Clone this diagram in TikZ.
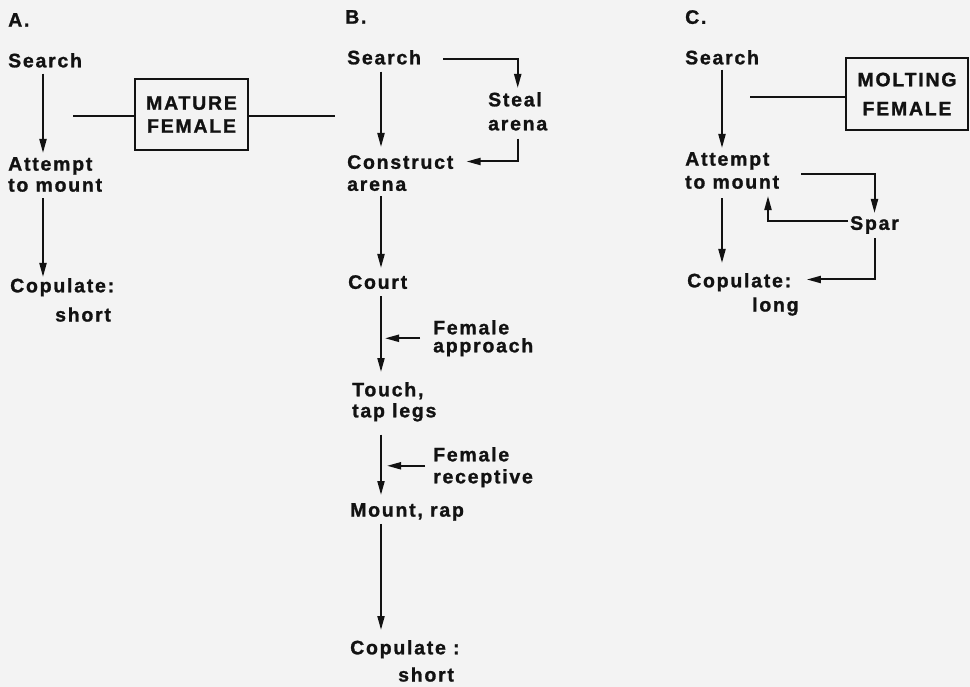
\documentclass[tikz,border=0pt]{standalone}
\usepackage{fontspec}
\setmainfont{Liberation Sans}[LetterSpace=9, BoldFont={Liberation Sans Bold}, BoldFeatures={FakeBold=1.2}]
\usetikzlibrary{arrows.meta}
\definecolor{bg}{RGB}{243,243,243}
\definecolor{ink}{RGB}{18,18,18}
\begin{document}
\begin{tikzpicture}[x=1pt,y=-1pt,
  txt/.style={anchor=north west, inner sep=0pt, align=left, text=ink,
              font=\fontsize{19.5}{18}\selectfont\bfseries},
  fembox/.style={draw=ink, line width=2pt, inner sep=0pt, align=center, text=ink,
              font=\fontsize{19.5}{18}\selectfont\bfseries},
  arr/.style={draw=ink, line width=2pt, -{Triangle[length=14pt,width=7pt]}},
  ln/.style={draw=ink, line width=2pt}]
\fill[bg] (0,0) rectangle (970,687);
\useasboundingbox (0,0) rectangle (970,687);

% ---------- A ----------
\node[txt] (aLab) at (8,13) {A.};
\node[txt] (aSearch) at (8,53) {Search};
\node[txt] (aAtt) at (8,157) {Attempt\\[3pt]to mount};
\node[txt] (aCop) at (10,278) {Copulate:\\[10pt]\hspace*{45pt}short};
\node[fembox, minimum width=113pt, minimum height=71pt] (aBox) at (191.5,114.5) {MATURE\\[5pt]FEMALE};
\coordinate (aX) at (43,0);
\coordinate (aL) at (73,116);
\coordinate (aR) at (335,116);
\draw[arr, shorten <=6pt, shorten >=4pt] (aSearch.south -| aX) -- (aAtt.north -| aX);
\draw[arr, shorten <=6pt, shorten >=1pt] (aAtt.south -| aX) -- (aCop.north -| aX);
\draw[ln] (aL) -- (aL -| aBox.west);
\draw[ln] (aBox.east |- aR) -- (aR);

% ---------- B ----------
\node[txt] (bLab) at (345,10) {B.};
\node[txt] (bSearch) at (347,50) {Search};
\node[txt] (bSteal) at (488,92) {Steal\\[6pt]arena};
\node[txt] (bCons) at (347,155) {Construct\\[4pt]arena};
\node[txt] (bCourt) at (348,275) {Court};
\node[txt] (bFapp) at (433,320) {Female\\approach};
\node[txt] (bTouch) at (352,382) {Touch,\\[3pt]tap legs};
\node[txt] (bFrec) at (433,447) {Female\\[4pt]receptive};
\node[txt] (bMount) at (350,503) {Mount, rap};
\node[txt] (bCop) at (350,640) {Copulate :\\[8pt]\hspace*{48pt}short};
\coordinate (bX) at (381,0);
\draw[arr, shorten <=7pt, shorten >=8pt] (bSearch.south -| bX) -- (bCons.north -| bX);
\draw[arr, shorten <=5pt, shorten >=7pt] (bCons.south -| bX) -- (bCourt.north -| bX);
\draw[arr, shorten <=7pt, shorten >=10pt] (bCourt.south -| bX) -- (bTouch.north -| bX);
\draw[arr, shorten <=13pt, shorten >=8pt] (bTouch.south -| bX) -- (bMount.north -| bX);
\draw[arr, shorten <=3pt, shorten >=10pt] (bMount.south -| bX) -- (bCop.north -| bX);
\draw[arr] ([xshift=22pt,yshift=-2pt]bSearch.east) -| ([yshift=4pt]bSteal.north);
\draw[arr] ([yshift=-8pt]bSteal.south) |- ([xshift=13pt,yshift=-6.5pt]bCons.north east);
\draw[arr] ([xshift=-13pt]bFapp.west) -- ([xshift=4pt]bFapp.west -| bX);
\draw[arr] ([xshift=-8pt,yshift=1.5pt]bFrec.west) -- ([xshift=6pt,yshift=1.5pt]bFrec.west -| bX);

% ---------- C ----------
\node[txt] (cLab) at (685,10) {C.};
\node[txt] (cSearch) at (685,50) {Search};
\node[txt] (cAtt) at (685,152) {Attempt\\[5pt]to mount};
\node[txt] (cSpar) at (850,216) {Spar};
\node[txt] (cCop) at (687,273) {Copulate:\\[5pt]\hspace*{65pt}long};
\node[fembox, minimum width=122pt, minimum height=72pt] (cBox) at (907,94) {MOLTING\\[11pt]FEMALE};
\coordinate (cX) at (722,0);
\coordinate (cL) at (750,97);
\coordinate (cB) at (768,0);
\draw[arr, shorten <=5pt, shorten >=4pt] (cSearch.south -| cX) -- (cAtt.north -| cX);
\draw[arr, shorten <=9pt, shorten >=10pt] (cAtt.south -| cX) -- (cCop.north -| cX);
\draw[ln] (cL) -- (cL -| cBox.west);
\draw[arr] ([xshift=22pt,yshift=-3pt]cAtt.east) -| ([yshift=3pt]cSpar.north);
\draw[arr] ([xshift=-2pt,yshift=4pt]cSpar.west) -| ([yshift=-7pt]cAtt.south -| cB);
\draw[arr] ([yshift=-4pt]cSpar.south) |- ([xshift=8pt,yshift=-6.5pt]cCop.north east);
\end{tikzpicture}
\end{document}
